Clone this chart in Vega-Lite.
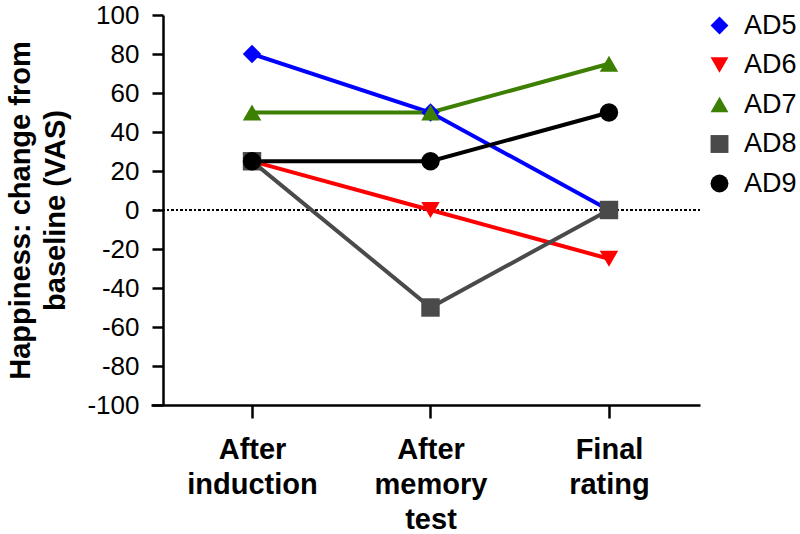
{
  "$schema": "https://vega.github.io/schema/vega-lite/v6.json",
  "width": 549,
  "height": 390,
  "autosize": {"type": "none"},
  "padding": {"left": 151, "top": 15, "right": 100, "bottom": 129},
  "background": "white",
  "config": {
    "view": {"stroke": null},
    "font": "Liberation Sans",
    "axis": {"domainColor": "black", "tickColor": "black", "labelColor": "black", "titleColor": "black", "grid": false, "domainWidth": 2.5, "tickWidth": 2.5},
    "legend": {"orient": "none", "legendX": 555, "legendY": -3, "title": null, "labelFontSize": 27, "symbolSize": 320, "rowPadding": 11.5, "labelOffset": 11, "symbolStrokeWidth": 0, "labelColor": "black"}
  },
  "data": {
    "values": [
      {"subject": "AD5", "stage": "After induction", "change": 80},
      {"subject": "AD5", "stage": "After memory test", "change": 50},
      {"subject": "AD5", "stage": "Final rating", "change": 0},
      {"subject": "AD6", "stage": "After induction", "change": 25},
      {"subject": "AD6", "stage": "After memory test", "change": 0},
      {"subject": "AD6", "stage": "Final rating", "change": -25},
      {"subject": "AD7", "stage": "After induction", "change": 50},
      {"subject": "AD7", "stage": "After memory test", "change": 50},
      {"subject": "AD7", "stage": "Final rating", "change": 75},
      {"subject": "AD8", "stage": "After induction", "change": 25},
      {"subject": "AD8", "stage": "After memory test", "change": -50},
      {"subject": "AD8", "stage": "Final rating", "change": 0},
      {"subject": "AD9", "stage": "After induction", "change": 25},
      {"subject": "AD9", "stage": "After memory test", "change": 25},
      {"subject": "AD9", "stage": "Final rating", "change": 50}
    ]
  },
  "encoding": {
    "x": {
      "field": "stage", "type": "nominal", "sort": null,
      "scale": {"type": "point", "padding": 0.538, "align": 0.526},
      "axis": {"title": null, "labelAngle": 0, "labelFontSize": 29, "labelFontWeight": "bold", "labelExpr": "split(datum.label, ' ')", "labelLineHeight": 35, "tickSize": 13, "labelPadding": 17}
    },
    "y": {
      "field": "change", "type": "quantitative",
      "scale": {"domain": [-100, 100], "nice": false, "zero": false},
      "axis": {"values": [-100, -80, -60, -40, -20, 0, 20, 40, 60, 80, 100], "labelExpr": "'' + datum.value", "offset": -12, "tickSize": 11, "labelPadding": 13, "labelFontSize": 26, "title": ["Happiness: change from", "baseline (VAS)"], "titleFontSize": 29, "titleFontWeight": "bold", "titlePadding": 16, "titleLineHeight": 35}
    }
  },
  "layer": [
    {
      "mark": {"type": "rule", "strokeDash": [2, 2.5], "strokeWidth": 1.8, "color": "black"},
      "encoding": {"y": {"datum": 0}, "x": null}
    },
    {
      "mark": {"type": "line", "strokeWidth": 4},
      "encoding": {
        "color": {"field": "subject", "type": "nominal",
          "scale": {"domain": ["AD5", "AD6", "AD7", "AD8", "AD9"], "range": ["#0000ff", "#ff0000", "#3d7f00", "#4a4a4a", "#000000"]}},
        "detail": {"field": "subject"}
      }
    },
    {
      "mark": {"type": "point", "filled": true, "opacity": 1, "size": 340},
      "encoding": {
        "color": {"field": "subject", "type": "nominal",
          "scale": {"domain": ["AD5", "AD6", "AD7", "AD8", "AD9"], "range": ["#0000ff", "#ff0000", "#3d7f00", "#4a4a4a", "#000000"]}},
        "shape": {"field": "subject", "type": "nominal",
          "scale": {"domain": ["AD5", "AD6", "AD7", "AD8", "AD9"], "range": ["diamond", "triangle-down", "triangle-up", "square", "circle"]}}
      }
    }
  ]
}
